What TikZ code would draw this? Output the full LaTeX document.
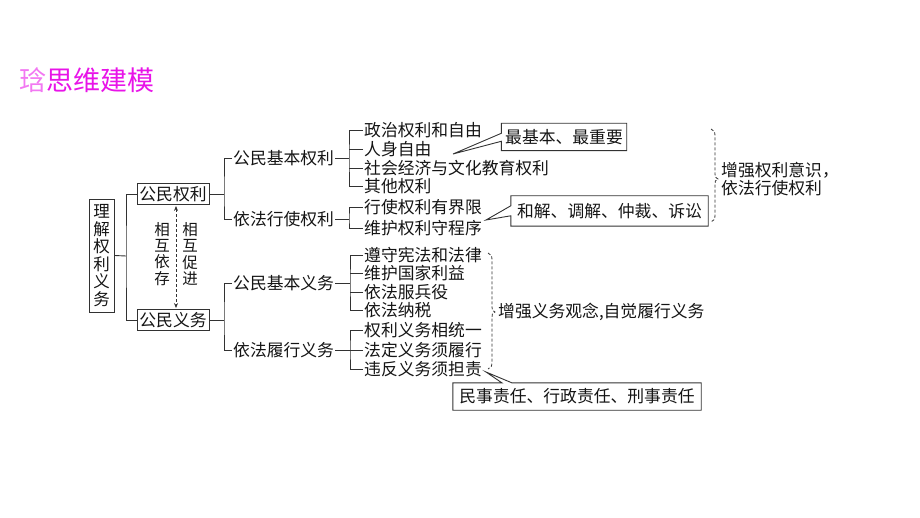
\documentclass[tikz,border=0pt]{standalone}
\usepackage{fontspec}
\setmainfont{Noto Sans CJK SC}
\usetikzlibrary{arrows.meta,calc}
\definecolor{ttl}{RGB}{232,20,232}
\definecolor{ttllight}{RGB}{242,120,242}
\definecolor{ln}{RGB}{50,50,50}
\definecolor{tx}{RGB}{20,20,20}
\begin{document}
\begin{tikzpicture}[x=1pt,y=-1pt,
  txt/.style={inner xsep=1pt,inner ysep=0pt,anchor=west,text=tx,font=\fontsize{16.8}{18}\selectfont},
  boxn/.style={draw=ln,line width=0.9pt,inner sep=0pt,text=tx,font=\fontsize{16.8}{18}\selectfont},
  vtxt/.style={inner sep=0pt,align=center,text=tx,font=\fontsize{15.5}{16.2}\selectfont},
  conn/.style={draw=ln,line width=0.9pt},
  dsh/.style={draw=ln,line width=0.8pt,dash pattern=on 3pt off 2pt},
  callt/.style={inner sep=0pt,text=tx,font=\fontsize{16.8}{18}\selectfont},
  tipa/.tip={Stealth[length=5pt,width=4pt,sep=0pt]},
  ]
\useasboundingbox (0,0) rectangle (920,518);
% title
\node[anchor=west,inner sep=0pt,font=\fontsize{27}{30}\selectfont] (title) at (19,80)
  {\textcolor{ttllight}{琀}\textcolor{ttl}{思维建模}};
% root
\node[boxn,align=center,minimum width=25,minimum height=113,font=\fontsize{16.5}{17.6}\selectfont] (root) at (101.5,255.5)
  {理\\解\\权\\利\\义\\务};
\node[boxn,minimum width=72,minimum height=21] (qlr) at (173,194) {公民权利};
\node[boxn,minimum width=72,minimum height=21] (qyw) at (173,320) {公民义务};
\coordinate (rj) at (126,256);
\draw[conn] (root.east) -- (rj);
\draw[conn] (qlr.west) -| (rj) |- (qyw.west);
% mutual arrow
\draw[dsh,tipa-tipa,shorten <=1pt,shorten >=1pt] ([xshift=3pt]qlr.south) -- ([xshift=3pt]qyw.north);
\node[vtxt] (hx1) at (162,254) {相\\互\\依\\存};
\node[vtxt] (hx2) at (190,254) {相\\互\\促\\进};
% rights level 2
\node[txt] (n1) at (232,158) {公民基本权利};
\node[txt] (n2) at (232,219) {依法行使权利};
\coordinate (j1) at (224,194);
\draw[conn] (qlr.east) -- (j1);
\draw[conn] (n1.west) -| (j1) |- (n2.west);
% rights level 3
\node[txt] (a1) at (363,130) {政治权利和自由};
\node[txt] (a2) at (363,149) {人身自由};
\node[txt] (a3) at (363,168) {社会经济与文化教育权利};
\node[txt] (a4) at (363,186) {其他权利};
\coordinate (j2) at (349,158);
\draw[conn] (n1.east) -- (j2);
\draw[conn] (a1.west) -| (j2) |- (a4.west);
\draw[conn] (a2.west) -- (a2.west -| j2);
\draw[conn] (a3.west) -- (a3.west -| j2);
\node[txt] (b1) at (363,207) {行使权利有界限};
\node[txt] (b2) at (363,228) {维护权利守程序};
\coordinate (j3) at (349,219);
\draw[conn] (n2.east) -- (j3);
\draw[conn] (b1.west) -| (j3) |- (b2.west);
% callout 1
\node[callt,minimum width=125,minimum height=27] (c1) at (564,137) {最基本、最重要};
\coordinate (tp1) at (453,154);
\draw[conn] (c1.north west) -- (c1.north east) -- (c1.south east) -- (c1.south west)
  -- ($(c1.north west)+(0,18)$) -- (tp1) -- ($(c1.north west)+(0,10)$) -- cycle;
% callout 2
\node[callt,minimum width=197,minimum height=30] (c2) at (609.5,211) {和解、调解、仲裁、诉讼};
\coordinate (tp2) at (486,220);
\draw[conn] (c2.north west) -- (c2.north east) -- (c2.south east) -- (c2.south west)
  -- ($(c2.north west)+(0,20)$) -- (tp2) -- ($(c2.north west)+(0,10)$) -- cycle;
% brace 1
\coordinate (br1) at (718,179);
\draw[dsh] (711,129) .. controls (714,130) and (715,132) .. (715,136) -- (715,174)
  .. controls (715,177) .. (br1) .. controls (715,181) .. (715,184) -- (715,215)
  .. controls (715,219) and (714,221) .. (711,222);
\node[txt,align=left,font=\fontsize{16.8}{18.5}\selectfont,inner xsep=0pt] (d1) at ($(br1)+(3,0)$) {增强权利意识，\\依法行使权利};
% obligations level 2
\node[txt] (n3) at (232,283) {公民基本义务};
\node[txt] (n4) at (232,350) {依法履行义务};
\coordinate (j4) at (224,320);
\draw[conn] (qyw.east) -- (j4);
\draw[conn] (n3.west) -| (j4) |- (n4.west);
% obligations level 3
\node[txt] (e1) at (363,255) {遵守宪法和法律};
\node[txt] (e2) at (363,273) {维护国家利益};
\node[txt] (e3) at (363,292) {依法服兵役};
\node[txt] (e4) at (363,310) {依法纳税};
\coordinate (j5) at (350,283);
\draw[conn] (n3.east) -- (j5);
\draw[conn] (e1.west) -| (j5) |- (e4.west);
\draw[conn] (e2.west) -- (e2.west -| j5);
\draw[conn] (e3.west) -- (e3.west -| j5);
\node[txt] (f1) at (363,330) {权利义务相统一};
\node[txt] (f2) at (363,350) {法定义务须履行};
\node[txt] (f3) at (363,369) {违反义务须担责};
\coordinate (j6) at (350,350);
\draw[conn] (n4.east) -- (j6);
\draw[conn] (f1.west) -| (j6) |- (f3.west);
\draw[conn] (f2.west) -- (j6);
% brace 2
\coordinate (br2) at (495,312);
\draw[dsh] (488,253) .. controls (491,254) and (492,256) .. (492,260) -- (492,307)
  .. controls (492,310) .. (br2) .. controls (492,314) .. (492,317) -- (492,362)
  .. controls (492,366) and (491,368) .. (488,369);
\node[txt,inner xsep=0pt] (d2) at ($(br2)+(3,0)$) {增强义务观念,自觉履行义务};
% callout 3
\node[callt,minimum width=248,minimum height=27] (c3) at (577,396.5) {民事责任、行政责任、刑事责任};
\coordinate (tp3) at (486,372);
\draw[conn] (c3.north west) -- ($(c3.north west)+(49,0)$) -- (tp3) -- ($(c3.north west)+(59,0)$)
  -- (c3.north east) -- (c3.south east) -- (c3.south west) -- cycle;
\end{tikzpicture}
\end{document}
